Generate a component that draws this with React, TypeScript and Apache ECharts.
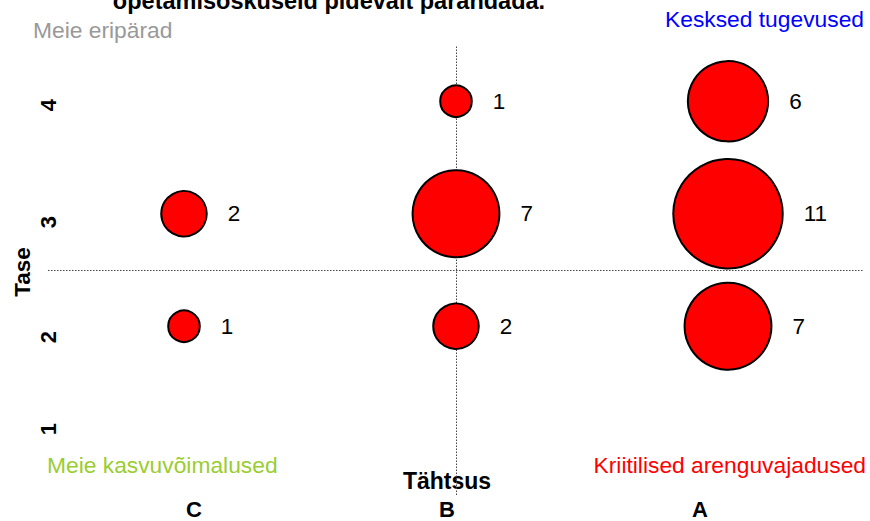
import React, { useEffect, useRef } from "react";
import * as echarts from "echarts";

// ---- Data ----
const importanceCategories = ["C", "B", "A"];
const levelLabels = ["1", "2", "3", "4"];
const pointImportance = ["C", "C", "B", "B", "B", "A", "A", "A"];
const pointLevel = [2, 3, 2, 3, 4, 2, 3, 4];
const pointCount = [1, 2, 2, 7, 1, 7, 11, 6];

const titleText = "õpetamisoskuseid pidevalt parandada.";
const quadrantTopLeft = "Meie eripärad";
const quadrantTopRight = "Kesksed tugevused";
const quadrantBottomLeft = "Meie kasvuvõimalused";
const quadrantBottomRight = "Kriitilised arenguvajadused";
const xAxisName = "Tähtsus";
const yAxisName = "Tase";

const FONT = "'Liberation Sans', Arial, Helvetica, sans-serif";

export default function App() {
  const ref = useRef<HTMLDivElement>(null);

  useEffect(() => {
    if (!ref.current) return;
    const chart = echarts.init(ref.current, undefined, { renderer: "svg" });

    const data = pointCount.map((c, i) => [
      importanceCategories.indexOf(pointImportance[i]) + 1,
      pointLevel[i],
      c,
    ]);

    const gridTop = 45;
    const gridHeight = 450;
    // y tick label screen positions (these labels in the reference are not evenly spaced)
    const yTickPos = [429, 337, 222, 105];

    const graphics: any[] = [
      {
        type: "text",
        x: 329,
        y: 1,
        style: {
          text: titleText,
          font: `bold 23.5px ${FONT}`,
          fill: "#000",
          align: "center",
          verticalAlign: "middle",
        },
      },
      {
        type: "text",
        x: 33,
        y: 30,
        style: { text: quadrantTopLeft, font: `22.8px ${FONT}`, fill: "#999999", align: "left", verticalAlign: "middle" },
      },
      {
        type: "text",
        x: 864,
        y: 19,
        style: { text: quadrantTopRight, font: `22.8px ${FONT}`, fill: "#0000FF", align: "right", verticalAlign: "middle" },
      },
      {
        type: "text",
        x: 47,
        y: 465,
        style: { text: quadrantBottomLeft, font: `22.8px ${FONT}`, fill: "#9ACD32", align: "left", verticalAlign: "middle" },
      },
      {
        type: "text",
        x: 866,
        y: 465,
        style: { text: quadrantBottomRight, font: `22.8px ${FONT}`, fill: "#FF0000", align: "right", verticalAlign: "middle" },
      },
      {
        type: "text",
        x: 447,
        y: 481,
        style: { text: xAxisName, font: `bold 23px ${FONT}`, fill: "#000", align: "center", verticalAlign: "middle" },
      },
      {
        type: "text",
        x: 22,
        y: 272,
        rotation: Math.PI / 2,
        style: { text: yAxisName, font: `bold 22.5px ${FONT}`, fill: "#000", align: "center", verticalAlign: "middle" },
      },
      ...levelLabels.map((t, i) => ({
        type: "text",
        x: 48,
        y: yTickPos[i],
        rotation: Math.PI / 2,
        style: { text: t, font: `bold 22px ${FONT}`, fill: "#000", align: "center", verticalAlign: "middle" },
      })),
    ];

    chart.setOption({
      animation: false,
      backgroundColor: "#fff",
      textStyle: { fontFamily: FONT },
      grid: [
        { left: 48, width: 816, top: gridTop, height: gridHeight },
        { left: 67.5, width: 759, top: gridTop, height: gridHeight },
      ],
      xAxis: [
        {
          type: "value",
          gridIndex: 0,
          min: 0.5,
          max: 3.5,
          show: false,
          splitLine: { show: false },
        },
        {
          type: "category",
          gridIndex: 1,
          data: importanceCategories,
          axisLine: { show: false },
          axisTick: { show: false },
          axisLabel: {
            margin: 3,
            fontSize: 22,
            fontWeight: "bold",
            color: "#000",
            fontFamily: FONT,
          },
        },
      ],
      yAxis: [
        {
          type: "value",
          gridIndex: 0,
          min: 0.5,
          max: 4.5,
          show: false,
          splitLine: { show: false },
        },
        { type: "value", gridIndex: 1, show: false },
      ],
      series: [
        {
          type: "line",
          xAxisIndex: 0,
          yAxisIndex: 0,
          data: [],
          z: 1,
          markLine: {
            silent: true,
            symbol: "none",
            z: 1,
            label: { show: false },
            lineStyle: { color: "#444", width: 1, type: [1.5, 1.5] },
            data: [{ xAxis: 2 }, { yAxis: 2.5 }],
          },
        },
        {
          type: "scatter",
          xAxisIndex: 0,
          yAxisIndex: 0,
          z: 5,
          data,
          symbol: "circle",
          symbolSize: (v: number[]) => 33.6 * Math.sqrt(v[2]) - 2,
          itemStyle: { color: "#FF0000", borderColor: "#000", borderWidth: 2, opacity: 1 },
          label: {
            show: true,
            position: "right",
            distance: 20,
            formatter: (p: any) => String(p.value[2]),
            fontSize: 22.5,
            color: "#000",
            fontFamily: FONT,
          },
        },
      ],
      graphic: graphics,
    });

    return () => chart.dispose();
  }, []);

  return <div ref={ref} style={{ width: 870, height: 521, position: "absolute", left: 0, top: 0 }} />;
}
